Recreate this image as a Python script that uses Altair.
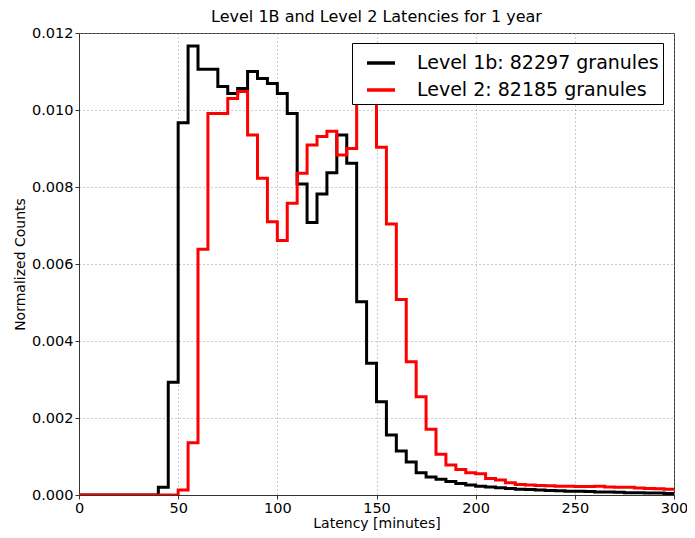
import altair as alt
import pandas as pd

bin_edges = list(range(0, 300, 5))

level1b = [0, 0, 0, 0, 0, 0, 0, 0,
           0.0002, 0.00293, 0.00967, 0.01166, 0.01106, 0.01106, 0.01061, 0.01043,
           0.01056, 0.01100, 0.01082, 0.01069, 0.01043, 0.00991, 0.00808, 0.00708,
           0.00782, 0.00837, 0.00935, 0.00862, 0.00502, 0.00342, 0.00242, 0.00156,
           0.00114, 0.00086, 0.00058, 0.00047, 0.00041, 0.00035, 0.00030, 0.00026,
           0.00023, 0.00021, 0.00019, 0.00017, 0.00015, 0.00014, 0.00013, 0.00012,
           0.00011, 0.00010, 0.00010, 0.00009, 0.00008, 0.00008, 0.00007, 0.00006,
           0.00006, 0.00005, 0.00005, 0.00004]

level2 = [0, 0, 0, 0, 0, 0, 0, 0, 0, 0,
          0.00013, 0.00136, 0.00638, 0.00991, 0.00991, 0.01030, 0.01048, 0.00935,
          0.00823, 0.00710, 0.00661, 0.00758, 0.00836, 0.00909, 0.00931, 0.00945,
          0.00883, 0.00900, 0.01070, 0.01120, 0.00903, 0.00704, 0.00508, 0.00346,
          0.00255, 0.00171, 0.00106, 0.00078, 0.00066, 0.00058, 0.00055, 0.00043,
          0.00039, 0.00032, 0.00027, 0.00026, 0.00025, 0.00024, 0.00023, 0.00023,
          0.00022, 0.00022, 0.00023, 0.00021, 0.00020, 0.00020, 0.00018, 0.00017,
          0.00016, 0.00015]

series_names = ["Level 1b: 82297 granules", "Level 2: 82185 granules"]
series_colors = ["black", "red"]

rows = []
for name, vals in zip(series_names, [level1b, level2]):
    for e, v in zip(bin_edges, vals):
        rows.append({"latency": e, "value": v, "series": name})
    rows.append({"latency": 300, "value": vals[-1], "series": name})
df = pd.DataFrame(rows)

font = "DejaVu Sans"

chart = alt.Chart(df).mark_line(interpolate="step-after", strokeWidth=3, clip=True).encode(
    x=alt.X("latency:Q", scale=alt.Scale(domain=[0, 300], nice=False, zero=False),
            axis=alt.Axis(title="Latency [minutes]", values=[0, 50, 100, 150, 200, 250, 300],
                          titlePadding=2, labelFlush=False)),
    y=alt.Y("value:Q", scale=alt.Scale(domain=[0, 0.012], nice=False),
            axis=alt.Axis(title="Normalized Counts", format=".3f", labelFlush=False,
                          values=[0, 0.002, 0.004, 0.006, 0.008, 0.010, 0.012])),
    color=alt.Color("series:N",
                    scale=alt.Scale(domain=series_names, range=series_colors),
                    legend=alt.Legend(title=None, orient="none", legendX=273, legendY=10,
                                      fillColor="white", strokeColor="black",
                                      padding=4, labelFontSize=19, labelFont=font,
                                      labelLimit=500, symbolOffset=9,
                                      symbolStrokeWidth=3.5, symbolSize=784,
                                      labelOffset=20, rowPadding=1, labelColor="black")),
).properties(
    width=595, height=462,
    title=alt.TitleParams("Level 1B and Level 2 Latencies for 1 year", fontSize=16,
                          font=font, fontWeight="normal", offset=0, color="black"),
    autosize=alt.AutoSizeParams(type="none"),
    padding={"left": 71, "top": 25, "right": 13, "bottom": 43},
).configure_view(
    stroke="#333", strokeWidth=1
).configure_axis(
    labelFont=font, titleFont=font, labelFontSize=14.5, titleFontSize=14,
    titleFontWeight="normal", labelColor="black", titleColor="black",
    grid=True, gridColor="#999", gridDash=[1, 3], gridWidth=1,
    domainColor="#333", tickColor="#333", tickSize=4,
)

chart.save("out.html", embed_options={"renderer": "svg", "actions": False})
